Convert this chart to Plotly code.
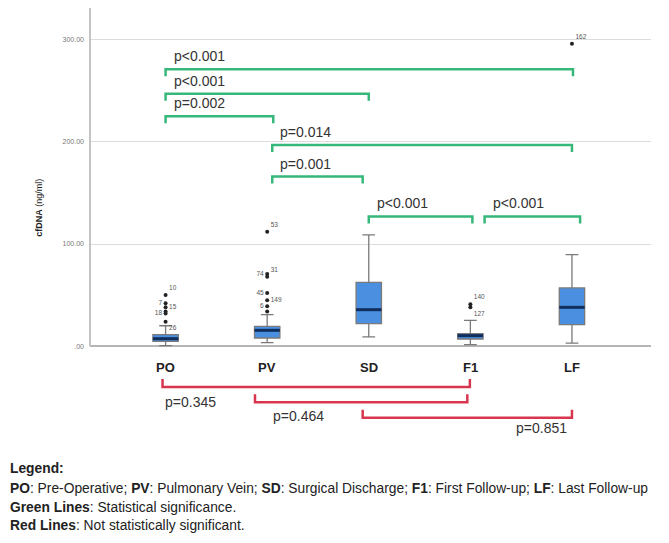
import plotly.graph_objects as go

# ---------------- data ----------------
categories = ["PO", "PV", "SD", "F1", "LF"]
q1 = [4.7, 8.0, 22.0, 7.0, 21.0]
median = [7.3, 15.5, 35.7, 10.3, 38.0]
q3 = [11.2, 19.4, 62.4, 12.2, 57.0]
lower_fence = [0.5, 3.4, 9.0, 1.5, 3.0]
upper_fence = [20.0, 30.8, 109.0, 25.2, 89.5]

outlier_cat = ["PO", "PO", "PO", "PO", "PO", "PO",
               "PV", "PV", "PV", "PV", "PV", "PV", "PV",
               "F1", "F1", "LF"]
outlier_val = [50, 42, 38, 34, 32, 24,
               112, 70.6, 68, 52, 45, 39, 34,
               41, 38, 296]
outlier_id = ["10", "7", "15", "", "18", "26",
              "53", "74", "31", "45", "149", "6", "",
              "140", "127", "162"]

sig_pairs = [("PO", "LF"), ("PO", "SD"), ("PO", "PV"), ("PV", "LF"),
             ("PV", "SD"), ("SD", "F1"), ("F1", "LF")]
sig_p = ["p<0.001", "p<0.001", "p=0.002", "p=0.014", "p=0.001", "p<0.001", "p<0.001"]
ns_pairs = [("PO", "F1"), ("PV", "F1"), ("SD", "LF")]
ns_p = ["p=0.345", "p=0.464", "p=0.851"]

y_ticks = [0, 100, 200, 300]
y_tick_labels = [".00", "100.00", "200.00", "300.00"]

# ---------------- layout / style (positions) ----------------
outlier_textpos = ["top right", "middle left", "middle right", "middle right", "middle left", "bottom right",
                   "top right", "middle left", "top right", "middle left", "middle right", "middle left", "middle right",
                   "top right", "bottom right", "top right"]
sig_levels = [271, 247, 225, 197, 166, 127, 127]
sig_x_adj = [(0, 0.01), (0, 0), (0, 0.06), (0.05, 0), (0.05, -0.06), (0, 0.02), (0.14, 0.08)]
ns_levels = [-40, -55, -70]
ns_x_adj = [(-0.03, -0.005), (-0.12, -0.03), (-0.06, 0)]
ns_label_anchor = ["left", "left", "right"]
ns_label_shift = [0, 16, -3]
ns_label_dy = [-15, -14, -10]

GREEN = "#36b87a"
RED = "#d8364f"
BOX_FILL = "#4a8fe0"
MEDIAN = "#102f5c"
WHISK = "#7a7a7a"
FONT = "Liberation Sans"

OFF = 8  # page body margin of the html page
W, H = 669, 543
# target plot area in the screenshot: x 90..651, y 8..433.5
L = 90 - OFF
T = 8 - OFF
R = W + OFF - 651
B = H + OFF - 433.5
Y_RANGE = [-85, 331]
X_RANGE = [-0.744, 4.778]
plot_w = W - L - R
plot_h = H - T - B


def px_x(px):
    return (px - OFF - L) / plot_w


def px_y(py):
    return (H - B - (py - OFF)) / plot_h


def ypx_to_val(dpx):
    return dpx * (Y_RANGE[1] - Y_RANGE[0]) / plot_h


pos = {c: i for i, c in enumerate(categories)}

fig = go.Figure()

# boxes
for i, c in enumerate(categories):
    fig.add_trace(go.Box(
        x=[i], q1=[q1[i]], median=[median[i]], q3=[q3[i]],
        lowerfence=[lower_fence[i]], upperfence=[upper_fence[i]],
        width=0.25, whiskerwidth=0.5,
        fillcolor=BOX_FILL, line=dict(color=WHISK, width=1.3),
        boxpoints=False, showlegend=False, hoverinfo="skip",
    ))
    fig.add_trace(go.Scatter(
        x=[i - 0.125, i + 0.125], y=[median[i], median[i]], mode="lines",
        line=dict(color=MEDIAN, width=3), showlegend=False, hoverinfo="skip",
    ))

# outliers
fig.add_trace(go.Scatter(
    x=[pos[c] for c in outlier_cat], y=outlier_val, mode="markers+text",
    marker=dict(color="#222222", size=4),
    text=outlier_id, textposition=outlier_textpos,
    textfont=dict(size=6.5, color="#555555", family=FONT),
    showlegend=False, hoverinfo="skip", cliponaxis=False,
))

shapes = []
annotations = []

# significant (green) brackets
tick_len = ypx_to_val(7)
for k, (a, b) in enumerate(sig_pairs):
    x0 = pos[a] + sig_x_adj[k][0]
    x1 = pos[b] + sig_x_adj[k][1]
    y = sig_levels[k]
    fig.add_trace(go.Scatter(
        x=[x0, x0, x1, x1], y=[y - tick_len, y, y, y - tick_len], mode="lines",
        line=dict(color=GREEN, width=2.5), showlegend=False, hoverinfo="skip",
    ))
    annotations.append(dict(
        x=x0, y=y + ypx_to_val(13), xref="x", yref="y", text=sig_p[k],
        showarrow=False, xanchor="left", yanchor="middle", xshift=6,
        font=dict(size=14, color="#333333", family=FONT),
    ))

# non-significant (red) brackets
tick_len_r = ypx_to_val(8)
for k, (a, b) in enumerate(ns_pairs):
    x0 = pos[a] + ns_x_adj[k][0]
    x1 = pos[b] + ns_x_adj[k][1]
    y = ns_levels[k]
    fig.add_trace(go.Scatter(
        x=[x0, x0, x1, x1], y=[y + tick_len_r, y, y, y + tick_len_r], mode="lines",
        line=dict(color=RED, width=2.5), showlegend=False, hoverinfo="skip",
    ))
    annotations.append(dict(
        x=x0 if ns_label_anchor[k] == "left" else x1,
        y=y + ypx_to_val(ns_label_dy[k]), xref="x", yref="y", text=ns_p[k],
        showarrow=False, xanchor=ns_label_anchor[k], yanchor="middle",
        xshift=ns_label_shift[k],
        font=dict(size=14, color="#333333", family=FONT),
    ))

# category labels
for i, c in enumerate(categories):
    annotations.append(dict(
        x=i, y=-ypx_to_val(21.5), xref="x", yref="y", text="<b>" + c + "</b>",
        showarrow=False, xanchor="center", yanchor="middle",
        font=dict(size=13, color="#222222", family=FONT),
    ))

# y-axis title
annotations.append(dict(
    x=px_x(39), y=px_y(208), xref="paper", yref="paper",
    text="<b>cfDNA</b> (ng/ml)", textangle=-90, showarrow=False,
    xanchor="center", yanchor="middle",
    font=dict(size=9, color="#222222", family=FONT),
))

# legend text block
legend_lines = [
    "<b>Legend:</b>",
    "<b>PO</b>: Pre-Operative; <b>PV</b>: Pulmonary Vein; <b>SD</b>: Surgical Discharge; "
    "<b>F1</b>: First Follow-up; <b>LF</b>: Last Follow-up",
    "<b>Green Lines</b>: Statistical significance.",
    "<b>Red Lines</b>: Not statistically significant.",
]
legend_y = [469, 489, 508, 526]
for t, yy in zip(legend_lines, legend_y):
    annotations.append(dict(
        x=px_x(8), y=px_y(yy), xref="paper", yref="paper", text=t,
        showarrow=False, xanchor="left", yanchor="middle",
        font=dict(size=13.8, color="#222222", family=FONT),
    ))

# y-axis line (from 0 to top)
shapes.append(dict(
    type="line", xref="paper", yref="y", x0=0, x1=0, y0=0, y1=Y_RANGE[1],
    line=dict(color="#c4c4c4", width=2),
))

fig.update_layout(
    width=W, height=H,
    margin=dict(l=L, r=R, t=T, b=B, pad=0),
    plot_bgcolor="white", paper_bgcolor="white",
    showlegend=False,
    shapes=shapes, annotations=annotations,
    xaxis=dict(range=X_RANGE, showgrid=False, zeroline=False, showline=False,
               showticklabels=False, ticks="", automargin=False),
    yaxis=dict(range=Y_RANGE, tickvals=y_ticks, ticktext=y_tick_labels,
               showgrid=True, gridcolor="#dcdcdc", gridwidth=1,
               zeroline=True, zerolinecolor="#b5b5b5", zerolinewidth=2,
               showline=False, ticks="", automargin=False, ticklabelstandoff=5,
               tickfont=dict(size=7, color="#777777", family=FONT)),
)

fig.write_html("out.html")
